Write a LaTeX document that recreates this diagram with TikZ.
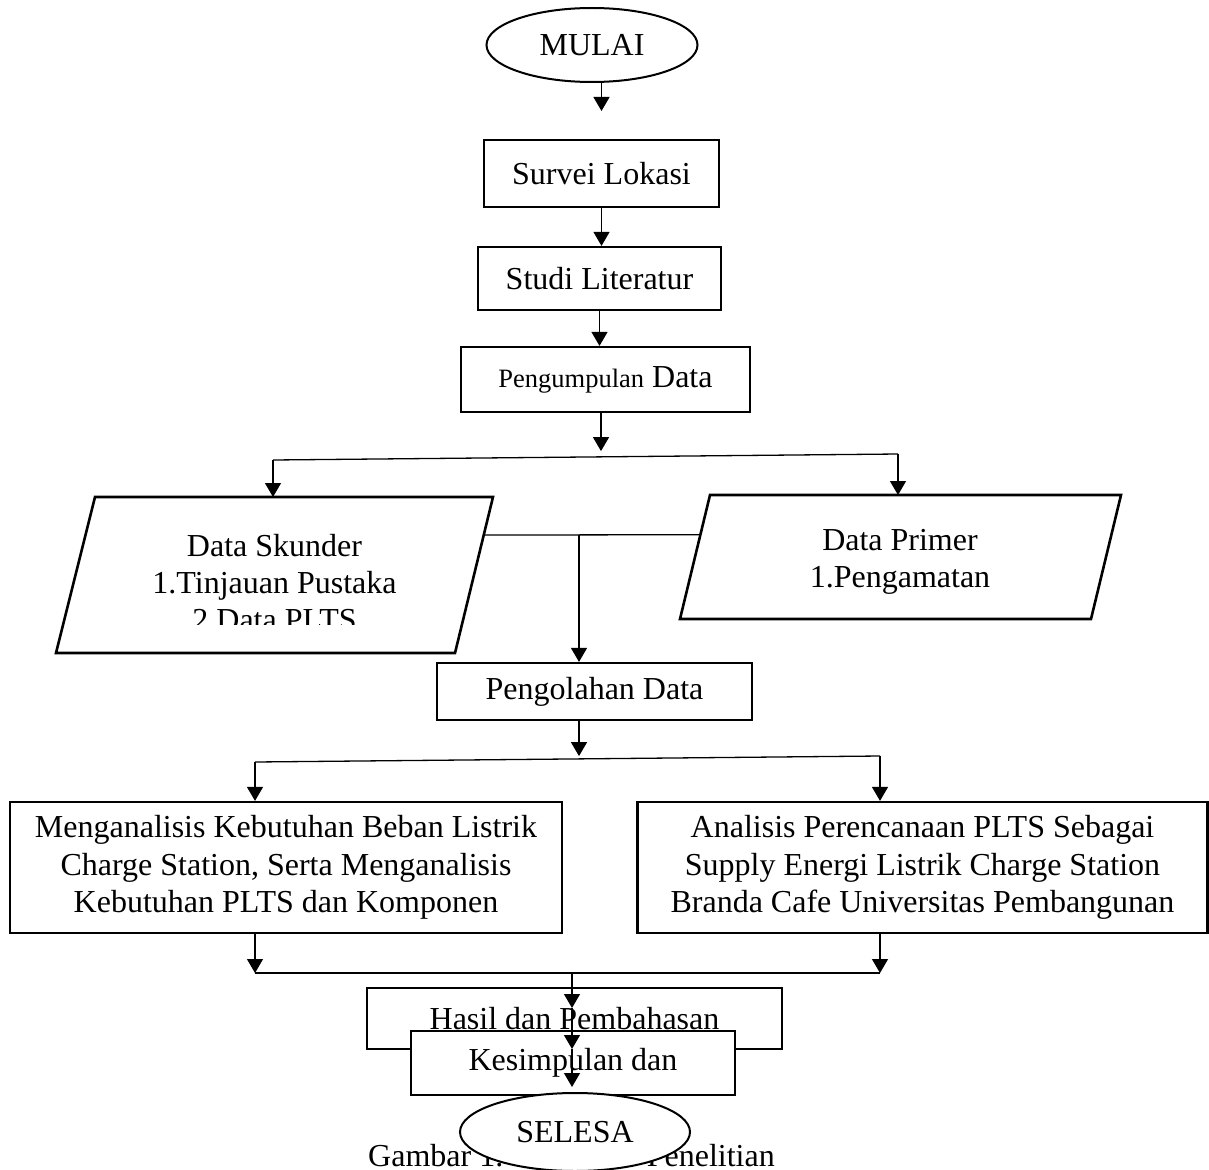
\documentclass[tikz,border=0pt]{standalone}
\usepackage{fontspec}
\setmainfont{Liberation Serif}
\usetikzlibrary{arrows.meta,calc,shapes.geometric}

\begin{document}
\begin{tikzpicture}[x=1pt,y=-1pt]
    \tikzset{block/.style= {draw, rectangle
    , line width=2.2pt
    , inner sep=0pt
    , align=center
    , font=\fontsize{32}{37.5}\selectfont
      },
      term/.style= {draw, ellipse
    , line width=2pt
    , inner sep=0pt
    , fill=white
    , font=\fontsize{32}{37.5}\selectfont
      },
      dataio/.style= {draw, line width=2.6pt, line join=miter},
      teks/.style= {align=center, inner sep=0pt
    , font=\fontsize{32}{37}\selectfont
      },
      panah/.style= {line width=1.3pt, -{Triangle[length=14pt,width=16pt]}},
      garis/.style= {line width=1.3pt}
    }

\useasboundingbox (0,0) rectangle (1209,1169);

\node [term, minimum width=211pt, minimum height=74pt] (mulai) at (592,45) {MULAI};
\node [block, minimum width=235pt, minimum height=67pt] (survei) at (601.5,173.5) {Survei Lokasi};
\node [block, minimum width=243pt, minimum height=63pt] (studi) at (599.5,278.5) {Studi Literatur};
\node [block, minimum width=289pt, minimum height=65pt] (kumpul) at (605.5,379.5) {{\fontsize{26.5}{30}\selectfont Pengumpulan} Data};

\coordinate (sk1) at (95,497);
\coordinate (sk2) at (493,497);
\coordinate (sk3) at (455,653);
\coordinate (sk4) at (56,653);
\coordinate (pr1) at (710,495);
\coordinate (pr2) at (1121,495);
\coordinate (pr3) at (1091,619);
\coordinate (pr4) at (680,619);
\path[dataio] (sk1) -- (sk2) -- (sk3) -- (sk4) -- cycle;
\path[dataio] (pr1) -- (pr2) -- (pr3) -- (pr4) -- cycle;
\begin{scope}
\clip (0,0) rectangle (1209,624);
\node [teks] (skunder) at (274.5,583) {Data Skunder\\1.Tinjauan Pustaka\\2.Data PLTS};
\end{scope}
\node [teks] (primer) at (900,562) {Data Primer\\1.Pengamatan};

\node [block, minimum width=315pt, minimum height=57pt] (olah) at (594.5,691.5) {Pengolahan Data};
\node [block, minimum width=552pt, minimum height=131pt] (beban) at (286,867.5) {Menganalisis Kebutuhan Beban Listrik\\Charge Station, Serta Menganalisis\\Kebutuhan PLTS dan Komponen};
\node [block, minimum width=570pt, minimum height=131pt] (rencana) at (922.5,867.5) {Analisis Perencanaan PLTS Sebagai\\Supply Energi Listrik Charge Station\\Branda Cafe Universitas Pembangunan};

\node [block, minimum width=415pt, minimum height=61pt] (hasil) at (574.5,1018.5) {Hasil dan Pembahasan};
\node [block, fill=white, minimum width=324pt, minimum height=64pt] (simpul) at (573,1063) {Kesimpulan dan};

\node [teks, anchor=base west] (capt1) at (368,1166) {Gambar 1.};
\node [teks, anchor=base east] (capt2) at (775,1166) {Penelitian};
\node [term, minimum width=230pt, minimum height=78pt] (selesai) at (575,1132) {SELESA};

\coordinate (kiri1) at (273,460);
\coordinate (kanan1) at (898,454);
\coordinate (skunderkanan) at ($(sk2)!0.244!(sk3)$);
\coordinate (primerkiri) at ($(pr1)!0.32!(pr4)$);
\coordinate (tengah1) at (579,535);
\coordinate (kiri2) at (255,762);
\coordinate (kanan2) at (880,756);
\coordinate (kiri3) at (255,973);
\coordinate (kanan3) at (880,973);
\coordinate (turun) at (572,973);
\coordinate (t1) at (572,1008);
\coordinate (t2) at (572,1049);
\coordinate (t3) at (572,1087);

 \path[draw, panah] (mulai.south -| survei.north) -- ++(0,28);
 \path[draw, panah] (survei.south) -- (survei.south |- studi.north);
 \path[draw, panah] (studi.south) -- (studi.south |- kumpul.north);
 \path[draw, panah] ([xshift=-4.5pt]kumpul.south) -- ++(0,38);
 \path[draw, garis] (kiri1) -- (kanan1);
 \path[draw, panah] (kiri1) -- (kiri1 |- sk1);
 \path[draw, panah] (kanan1) -- (kanan1 |- pr1);
 \path[draw, garis] (skunderkanan) -- (primerkiri);
 \path[draw, panah] (tengah1) -- (tengah1 |- olah.north);
 \path[draw, panah] (tengah1 |- olah.south) -- ++(0,35);
 \path[draw, garis] (kiri2) -- (kanan2);
 \path[draw, panah] (kiri2) -- (kiri2 |- beban.north);
 \path[draw, panah] (kanan2) -- (kanan2 |- rencana.north);
 \path[draw, panah] (kiri3 |- beban.south) -- (kiri3);
 \path[draw, panah] (kanan3 |- rencana.south) -- (kanan3);
 \path[draw, garis] (kiri3) -- (kanan3);
 \path[draw, panah]
  (turun) -- (t1);
 \path[draw, panah]
  (t1) -- (t2);
 \path[draw, panah]
  (t2) -- (t3);
\end{tikzpicture}
\end{document}
